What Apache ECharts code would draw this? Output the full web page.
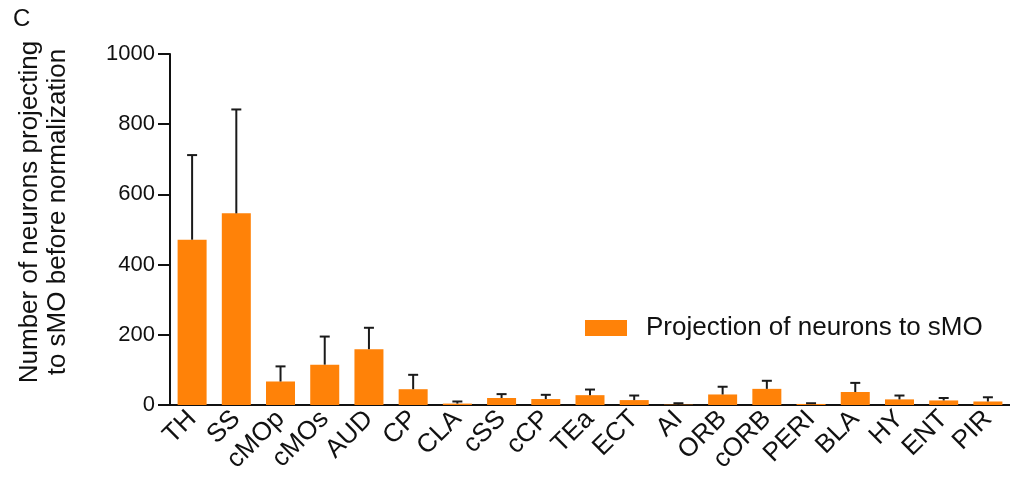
<!DOCTYPE html>
<html>
<head>
<meta charset="utf-8">
<script src="https://cdn.jsdelivr.net/npm/echarts@6/dist/echarts.min.js"></script>
<style>
  html, body { margin: 0; padding: 0; background: #fff; }
  #chart { width: 1010px; height: 486px; }
</style>
</head>
<body>
<div id="chart"></div>
<script>
// regions projecting to sMO
const regions = ['TH', 'SS', 'cMOp', 'cMOs', 'AUD', 'CP', 'CLA', 'cSS', 'cCP', 'TEa',
  'ECT', 'AI', 'ORB', 'cORB', 'PERI', 'BLA', 'HY', 'ENT', 'PIR'];
// mean number of neurons
const means = [471, 546, 67, 115, 159, 45, 4, 20, 17, 28, 14, 1, 30, 46, 3, 37, 16, 13, 10];
// upper error (SEM)
const errs = [241, 296, 43, 80, 61, 41, 6, 11, 12, 16, 13, 4, 22, 23, 2, 26, 11, 7, 12];
const yTicks = [0, 200, 400, 600, 800, 1000];

const font = 'Liberation Sans, Arial, sans-serif';
const orange = '#ff8208';

const myChart = echarts.init(document.getElementById('chart'));

const option = {
  animation: false,
  backgroundColor: '#fff',
  grid: { left: 170, right: 0, top: 54, bottom: 81 },
  legend: {
    left: 580,
    top: 310,
    itemWidth: 42,
    itemHeight: 16,
    icon: 'rect',
    textStyle: { fontFamily: font, fontSize: 26, color: '#111', padding: [0, 0, 0, 14] },
    data: ['Projection of neurons to sMO']
  },
  graphic: [
    {
      type: 'text', left: 13, top: 7,
      style: { text: 'C', fontFamily: font, fontSize: 24, fill: '#111' }
    },
    {
      type: 'text',
      x: 44, y: 212,
      rotation: Math.PI / 2,
      style: {
        text: 'Number of neurons projecting\nto sMO before normalization',
        fontFamily: font, fontSize: 26, lineHeight: 28, fill: '#111',
        align: 'center', verticalAlign: 'middle'
      }
    }
  ],
  xAxis: {
    type: 'category',
    data: regions,
    axisLine: { lineStyle: { color: '#111', width: 2 } },
    axisTick: { alignWithLabel: true, length: 9, lineStyle: { color: '#111', width: 2 } },
    axisLabel: { rotate: 45, margin: 10, fontFamily: font, fontSize: 26, color: '#111', interval: 0 }
  },
  yAxis: {
    type: 'value',
    min: yTicks[0],
    max: yTicks[yTicks.length - 1],
    interval: 200,
    splitLine: { show: false },
    axisLine: { show: true, lineStyle: { color: '#111', width: 2 } },
    axisTick: { show: true, length: 12, lineStyle: { color: '#111', width: 2 } },
    axisLabel: {
      margin: 15, fontFamily: font, fontSize: 22, color: '#111',
      formatter: function (v) { return String(v); }
    }
  },
  series: [
    {
      name: 'Projection of neurons to sMO',
      type: 'bar',
      barWidth: 29,
      data: means,
      itemStyle: { color: orange }
    },
    {
      // error bars, only upward
      type: 'custom',
      z: 3,
      data: means.map((m, i) => [i, m, m + errs[i]]),
      renderItem: function (params, api) {
        const low = api.coord([api.value(0), api.value(1)]);
        const high = api.coord([api.value(0), api.value(2)]);
        const half = 5;
        const st = { stroke: '#1a1a1a', lineWidth: 2 };
        return {
          type: 'group',
          children: [
            { type: 'line', shape: { x1: low[0], y1: low[1], x2: high[0], y2: high[1] }, style: st },
            { type: 'line', shape: { x1: high[0] - half, y1: high[1], x2: high[0] + half, y2: high[1] }, style: st }
          ]
        };
      }
    }
  ]
};

myChart.setOption(option);
</script>
</body>
</html>
